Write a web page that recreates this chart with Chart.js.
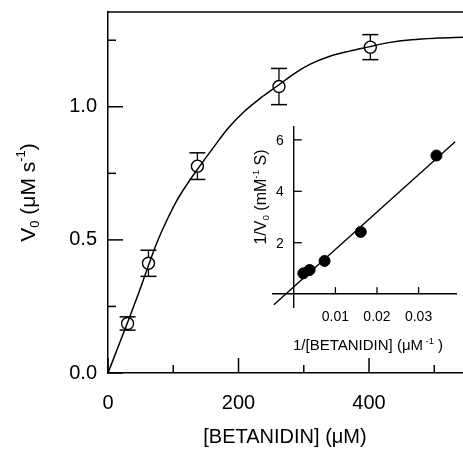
<!DOCTYPE html>
<html><head><meta charset="utf-8">
<script src="https://cdn.jsdelivr.net/npm/chart.js@4/dist/chart.umd.min.js"></script>
<style>
html,body{margin:0;padding:0;background:#fff;overflow:hidden}
#wrap{position:relative;width:463px;height:454px}
#main{position:absolute;left:0;top:0}
#inset{position:absolute;left:240px;top:100px}
</style></head><body>
<div id="wrap"><canvas id="main" width="463" height="454"></canvas><canvas id="inset" width="223" height="260"></canvas></div>
<script>
// ---- data ----
const concentration = [30, 62, 137, 262, 402];          // [BETANIDIN] (µM)
const velocity = [0.186, 0.412, 0.777, 1.076, 1.224];   // V0 (µM s-1)
const velocityError = [0.025, 0.049, 0.05, 0.068, 0.047];
const fitX = [0, 15, 30, 45, 60, 75, 90, 105, 120, 140, 160, 185, 210, 235, 260, 285, 310, 340, 370, 400, 430, 465, 505, 544];
const fitY = [0, 0.095, 0.19, 0.287, 0.39, 0.49, 0.573, 0.646, 0.705, 0.775, 0.842, 0.922, 0.985, 1.035, 1.079, 1.124, 1.16, 1.19, 1.209, 1.225, 1.241, 1.252, 1.258, 1.261];
const mainXTicks = [0, 200, 400];
const mainXMinor = [100, 300, 500];
const mainYTicks = [0, 0.5, 1.0];
const mainYMinor = [0.25, 0.75, 1.25];

const invConcentration = [0.0023, 0.0038, 0.0074, 0.0161, 0.0343]; // 1/[BETANIDIN]
const invVelocity = [0.81, 0.94, 1.29, 2.42, 5.39];                  // 1/V0
const lineX = [-0.0048, 0.0388];
const lineY = [-0.41, 5.93];
const insetXTicks = [0.01, 0.02, 0.03];
const insetYTicks = [2, 4, 6];

const FAMILY = '"Liberation Sans", Arial, Helvetica, sans-serif';

function drawRich(ctx, segs, cx, cy, size, rot) {
  ctx.save();
  ctx.translate(cx, cy);
  ctx.rotate(rot);
  let total = 0;
  const parts = segs.map(s => {
    const fs = s.m ? size * 0.62 : size;
    ctx.font = fs + 'px ' + FAMILY;
    const w = ctx.measureText(s.t).width;
    total += w;
    return { s, fs, w };
  });
  let x = -total / 2;
  ctx.fillStyle = '#000';
  ctx.textAlign = 'left';
  ctx.textBaseline = 'alphabetic';
  const base = size * 0.36;
  for (const p of parts) {
    ctx.font = p.fs + 'px ' + FAMILY;
    let dy = base;
    if (p.s.m === 'sub') dy += size * 0.22;
    if (p.s.m === 'sup') dy -= size * 0.45;
    ctx.fillText(p.s.t, x, dy);
    x += p.w;
  }
  ctx.restore();
}

function line(ctx, x1, y1, x2, y2, w) {
  ctx.beginPath();
  ctx.lineWidth = w;
  ctx.strokeStyle = '#000';
  ctx.moveTo(x1, y1);
  ctx.lineTo(x2, y2);
  ctx.stroke();
}

function noPadX(s) { s.paddingLeft = 0; s.paddingRight = 0; }
function noPadY(s) { s.paddingTop = 0; s.paddingBottom = 0; }

// ---------------- main chart ----------------
const mainPlugin = {
  id: 'mainDecor',
  beforeDatasetsDraw(chart) {
    const { ctx, scales: { x, y } } = chart;
    ctx.save();
    concentration.forEach((c, i) => {
      const px = x.getPixelForValue(c);
      const top = y.getPixelForValue(velocity[i] + velocityError[i]);
      const bot = y.getPixelForValue(velocity[i] - velocityError[i]);
      line(ctx, px, top, px, bot, 1.3);
      line(ctx, px - 8, top, px + 8, top, 1.5);
      line(ctx, px - 8, bot, px + 8, bot, 1.5);
    });
    ctx.restore();
  },
  afterDraw(chart) {
    const { ctx, chartArea: a, scales: { x, y } } = chart;
    ctx.save();
    line(ctx, a.left, a.top, a.right, a.top, 1.5);
    mainXTicks.forEach(v => { const p = x.getPixelForValue(v); line(ctx, p, a.bottom, p, a.bottom - 15, 1.5); });
    mainXMinor.forEach(v => { const p = x.getPixelForValue(v); line(ctx, p, a.bottom, p, a.bottom - 8, 1.5); });
    mainYTicks.forEach(v => { const p = y.getPixelForValue(v); line(ctx, a.left, p, a.left + 15, p, 1.5); });
    mainYMinor.forEach(v => { const p = y.getPixelForValue(v); line(ctx, a.left, p, a.left + 8, p, 1.5); });
    drawRich(ctx, [{ t: '[BETANIDIN] (μM)' }], 285, 436, 20, 0);
    drawRich(ctx, [{ t: 'V' }, { t: '0', m: 'sub' }, { t: ' (μM s' }, { t: '-1', m: 'sup' }, { t: ')' }], 27, (a.top + a.bottom) / 2, 21, -Math.PI / 2);
    ctx.restore();
  }
};

new Chart(document.getElementById('main'), {
  type: 'scatter',
  data: {
    datasets: [
      {
        type: 'line',
        data: fitX.map((v, i) => ({ x: v, y: fitY[i] })),
        borderColor: '#000', borderWidth: 1.5, pointRadius: 0,
        cubicInterpolationMode: 'monotone', fill: false, order: 0
      },
      {
        data: concentration.map((v, i) => ({ x: v, y: velocity[i] })),
        pointStyle: 'circle', pointRadius: 6, pointBackgroundColor: '#fff',
        pointBorderColor: '#000', pointBorderWidth: 1.4, order: 1
      }
    ]
  },
  options: {
    responsive: false, animation: false, devicePixelRatio: 1,
    layout: { autoPadding: false, padding: { top: 12, right: 0, left: 0, bottom: 0 } },
    plugins: { legend: { display: false }, tooltip: { enabled: false } },
    scales: {
      x: {
        type: 'linear', min: 0, max: 544,
        afterFit(s) { s.height = 81; noPadX(s); },
        afterBuildTicks(s) { s.ticks = mainXTicks.map(v => ({ value: v })); },
        grid: { display: false, drawTicks: false },
        border: { display: true, color: '#000', width: 1.5 },
        ticks: { color: '#000', padding: 18, font: { family: FAMILY, size: 20 }, maxRotation: 0, callback: v => String(v) }
      },
      y: {
        type: 'linear', min: 0, max: 1.356,
        afterFit(s) { s.width = 108; noPadY(s); },
        afterBuildTicks(s) { s.ticks = mainYTicks.map(v => ({ value: v })); },
        grid: { display: false, drawTicks: false },
        border: { display: true, color: '#000', width: 1.5 },
        ticks: { color: '#000', padding: 11, font: { family: FAMILY, size: 20 }, callback: v => Number(v).toFixed(1) }
      }
    }
  },
  plugins: [mainPlugin]
});

// ---------------- inset chart ----------------
const insetPlugin = {
  id: 'insetDecor',
  afterDraw(chart) {
    const { ctx, scales: { x, y } } = chart;
    ctx.save();
    const y0 = y.getPixelForValue(0);
    const x0 = x.getPixelForValue(0);
    insetXTicks.forEach(v => { const p = x.getPixelForValue(v); line(ctx, p, y0, p, y0 - 7, 1.3); });
    insetYTicks.forEach(v => { const p = y.getPixelForValue(v); line(ctx, x0, p, x0 + 8, p, 1.3); });
    ctx.fillStyle = '#000';
    ctx.font = '14px ' + FAMILY;
    ctx.textAlign = 'right';
    ctx.textBaseline = 'middle';
    insetYTicks.forEach(v => { ctx.fillText(String(v), x0 - 10, y.getPixelForValue(v) + 1); });
    drawRich(ctx, [{ t: '1/[BETANIDIN] (μM' }, { t: ' -1', m: 'sup' }, { t: ' )' }], 128, 245, 15, 0);
    drawRich(ctx, [{ t: '1/V' }, { t: '0', m: 'sub' }, { t: ' (mM' }, { t: '-1', m: 'sup' }, { t: ' S)' }], 20, 97, 16, -Math.PI / 2);
    ctx.restore();
  }
};

new Chart(document.getElementById('inset'), {
  type: 'scatter',
  data: {
    datasets: [
      {
        type: 'line',
        data: lineX.map((v, i) => ({ x: v, y: lineY[i] })),
        borderColor: '#000', borderWidth: 1.4, pointRadius: 0, fill: false, order: 1
      },
      {
        data: invConcentration.map((v, i) => ({ x: v, y: invVelocity[i] })),
        pointStyle: 'circle', pointRadius: 5.5, pointBackgroundColor: '#000',
        pointBorderColor: '#000', pointBorderWidth: 1, order: 0
      }
    ]
  },
  options: {
    responsive: false, animation: false, devicePixelRatio: 1,
    layout: { autoPadding: false, padding: { top: 27, right: 7, left: 33, bottom: 53 } },
    plugins: { legend: { display: false }, tooltip: { enabled: false } },
    scales: {
      x: {
        type: 'linear', min: -0.005, max: 0.039, position: { y: 0 },
        afterFit: noPadX,
        afterBuildTicks(s) { s.ticks = insetXTicks.map(v => ({ value: v })); },
        grid: { display: false, drawTicks: false },
        border: { display: true, color: '#000', width: 1.4 },
        ticks: { color: '#000', padding: 15, font: { family: FAMILY, size: 14 }, maxRotation: 0, callback: v => Number(v).toFixed(2) }
      },
      y: {
        type: 'linear', min: -0.5, max: 6.5, position: { x: 0 },
        afterFit: noPadY,
        afterBuildTicks(s) { s.ticks = insetYTicks.map(v => ({ value: v })); },
        grid: { display: false, drawTicks: false },
        border: { display: true, color: '#000', width: 1.4 },
        ticks: { display: false }
      }
    }
  },
  plugins: [insetPlugin]
});
</script>
</body></html>
